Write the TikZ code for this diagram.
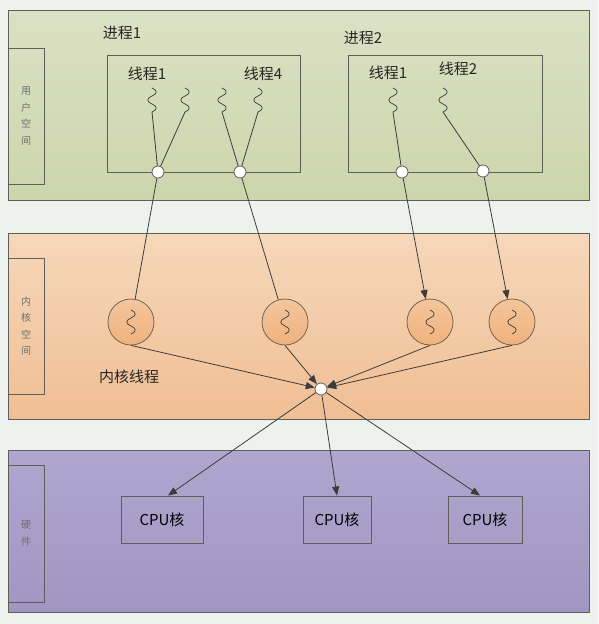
\documentclass[tikz,border=0pt]{standalone}
\usepackage{fontspec}
\setmainfont{Noto Sans CJK SC}
\usepackage{tikz}
\usetikzlibrary{arrows.meta}

\definecolor{bgcol}{RGB}{238,242,238}
\definecolor{edgecol}{RGB}{95,95,90}
\definecolor{wirecol}{RGB}{60,60,60}
\definecolor{usertop}{RGB}{219,225,196}
\definecolor{userbot}{RGB}{205,213,172}
\definecolor{kerntop}{RGB}{246,216,186}
\definecolor{kernbot}{RGB}{240,190,148}
\definecolor{hwtop}{RGB}{176,166,206}
\definecolor{hwbot}{RGB}{163,149,194}
\definecolor{ktfill}{RGB}{240,178,124}
\definecolor{sidetext}{RGB}{110,110,110}

\begin{document}
\begin{tikzpicture}[x=1pt,y=-1pt,
  panel/.style={draw=edgecol,line width=1pt,inner sep=0pt},
  sidebox/.style={draw=edgecol,line width=0.9pt,minimum width=36pt,
    align=center,font=\fontsize{10}{16.5}\selectfont,text=sidetext},
  procbox/.style={draw=edgecol,line width=0.9pt,minimum height=117pt},
  label/.style={font=\fontsize{15}{17}\selectfont,text=black!85},
  joint/.style={circle,draw=edgecol,fill=white,line width=0.8pt,
    minimum size=12pt,inner sep=0pt},
  kthread/.style={circle,draw=edgecol!80!brown,line width=0.8pt,top color=ktfill!75!white,
    bottom color=ktfill,minimum size=46pt,inner sep=0pt},
  cpubox/.style={draw=edgecol,line width=0.9pt,minimum height=47pt,
    font=\fontsize{15}{17}\selectfont},
  wire/.style={draw=wirecol,line width=0.8pt},
  feed/.style={wire,-{Triangle[length=9pt,width=7pt]}},
  wavy/.pic={\draw[wirecol,line width=0.7pt] (0,0) .. controls (5.5,2) and (5.5,6) .. (0,8)
    .. controls (-5.5,10) and (-5.5,14) .. (0,16) .. controls (5.5,18) and (5.5,22) .. (0,24);
    \coordinate (-end) at (0,24);}]
  \fill[bgcol] (0,0) rectangle (598,624);
  \useasboundingbox (0,0) rectangle (598,624);

  % three layers
  \node[panel,top color=usertop,bottom color=userbot,minimum width=581pt,
    minimum height=190pt] (user) at (298.5,105) {};
  \node[panel,top color=kerntop,bottom color=kernbot,minimum width=581pt,
    minimum height=186pt] (kernel) at (298.5,326) {};
  \node[panel,top color=hwtop,bottom color=hwbot,minimum width=581pt,
    minimum height=162pt] (hw) at (298.5,531) {};
  \node[sidebox,minimum height=136pt] (userside) at (26,116) {用\\户\\空\\间};
  \node[sidebox,minimum height=136pt] (kernside) at (26,326) {内\\核\\空\\间};
  \node[sidebox,minimum height=137pt] (hwside) at (26,533.5) {硬\\件};

  % user space
  \node[label] (p1label) at (122,33) {进程1};
  \node[label] (p2label) at (363,38) {进程2};
  \node[procbox,minimum width=193pt] (proc1) at (203.5,113.5) {};
  \node[procbox,minimum width=194pt] (proc2) at (445,113.5) {};
  \node[label] (t1label) at (147,74) {线程1};
  \node[label] (t4label) at (263,74) {线程4};
  \node[label] (t21label) at (388,73) {线程1};
  \node[label] (t22label) at (458,69) {线程2};
  \pic (wa) at (152,88) {wavy};
  \pic (wb) at (185,88) {wavy};
  \pic (wc) at (222,88) {wavy};
  \pic (wd) at (258,88) {wavy};
  \pic (we) at (393,88) {wavy};
  \pic (wf) at (443,88) {wavy};
  \node[joint] (ja) at (158,172) {};
  \node[joint] (jb) at (240,172) {};
  \node[joint] (jc) at (402,172) {};
  \node[joint] (jd) at (483,171) {};
  \draw[wire] (wa-end) -- (ja) (wb-end) -- (ja) (wc-end) -- (jb) (wd-end) -- (jb)
    (we-end) -- (jc) (wf-end) -- (jd);

  % kernel space
  \node[kthread] (kta) at (131,322) {};
  \node[kthread] (ktb) at (285,322) {};
  \node[kthread] (ktc) at (430,322) {};
  \node[kthread] (ktd) at (512,322) {};
  \foreach \k in {kta,ktb,ktc,ktd}
    \pic at ([yshift=12pt]\k.center) {wavy};
  \node[label] (ktlabel) at (129,377) {内核线程};
  \node[joint] (hub) at (321,389) {};
  \draw[wire] (ja) -- (kta);
  \draw[wire] (jb) -- (ktb);
  \draw[feed] (jc) -- (ktc);
  \draw[feed] (jd) -- (ktd);
  \foreach \k in {kta,ktb,ktc,ktd}
    \draw[feed] (\k.south) -- (hub);

  % hardware
  \node[cpubox,minimum width=82pt] (cpua) at (162,519.5) {CPU核};
  \node[cpubox,minimum width=68pt] (cpub) at (337,519.5) {CPU核};
  \node[cpubox,minimum width=74pt] (cpuc) at (485,519.5) {CPU核};
  \draw[feed] (hub) -- ([xshift=6pt]cpua.north);
  \draw[feed] (hub) -- (cpub.north);
  \draw[feed] (hub) -- ([xshift=-5pt]cpuc.north);
\end{tikzpicture}
\end{document}
